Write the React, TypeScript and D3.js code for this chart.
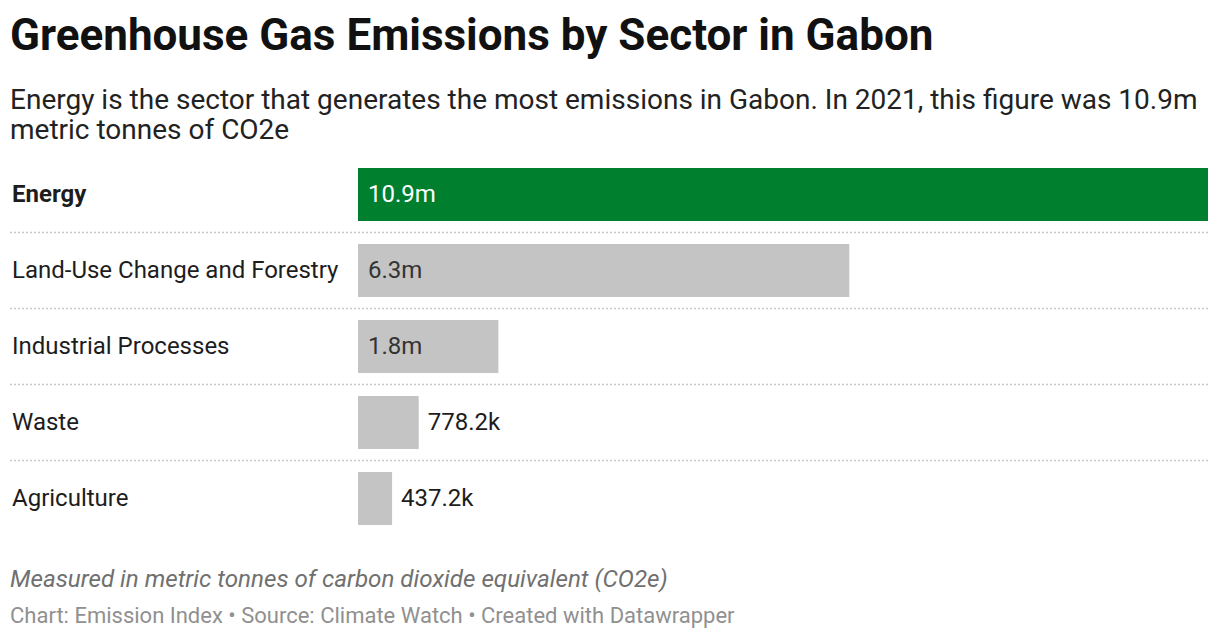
import * as React from "react"
import * as d3 from "d3"

const sectors = [
  "Energy",
  "Land-Use Change and Forestry",
  "Industrial Processes",
  "Waste",
  "Agriculture",
]
const emissions = [10900000, 6300000, 1800000, 778200, 437200]
const highlight = "Energy"

const fmt = (v: number) =>
  v >= 1e6 ? `${(v / 1e6).toFixed(1)}m` : `${(v / 1e3).toFixed(1)}k`

const width = 1220
const height = 640
const FONT = "Roboto, 'Noto Sans', sans-serif"

export default function App(): React.JSX.Element {
  const svgRef = React.useRef<SVGSVGElement>(null)

  React.useEffect(() => {
    document.body.style.margin = "0"
    const svg = d3.select(svgRef.current)
    svg.selectAll("*").remove()

    const plotLeft = 358
    const plotRight = 1208
    const top = 168

    const x = d3
      .scaleLinear()
      .domain([0, d3.max(emissions) as number])
      .range([plotLeft, plotRight])

    const y = d3
      .scaleBand()
      .domain(sectors)
      .range([top - 11.5, top - 11.5 + 76 * sectors.length])
      .paddingInner((11.5 * 2) / 76)
      .paddingOuter(11.5 / 76)

    // title
    svg
      .append("text")
      .attr("x", 10)
      .attr("y", 50)
      .attr("font-family", FONT)
      .attr("font-weight", 700)
      .attr("font-size", 44)
      .attr("fill", "#111")
      .text("Greenhouse Gas Emissions by Sector in Gabon")

    const sub = [
      "Energy is the sector that generates the most emissions in Gabon. In 2021, this figure was 10.9m",
      "metric tonnes of CO2e",
    ]
    svg
      .selectAll(".sub")
      .data(sub)
      .join("text")
      .attr("class", "sub")
      .attr("x", 10)
      .attr("y", (_, i) => 109 + i * 30)
      .attr("font-family", FONT)
      .attr("font-size", 28)
      .attr("fill", "#222")
      .text((d) => d)

    // separators
    svg
      .selectAll(".sep")
      .data(sectors.slice(0, -1))
      .join("line")
      .attr("class", "sep")
      .attr("x1", 10)
      .attr("x2", plotRight)
      .attr("y1", (d) => (y(d) as number) + y.bandwidth() + 11.5)
      .attr("y2", (d) => (y(d) as number) + y.bandwidth() + 11.5)
      .attr("stroke", "#c8c8c8")
      .attr("stroke-width", 1.5)
      .attr("stroke-dasharray", "2,2")

    // bars
    svg
      .selectAll(".bar")
      .data(sectors)
      .join("rect")
      .attr("class", "bar")
      .attr("x", plotLeft)
      .attr("y", (d) => y(d) as number)
      .attr("width", (d, i) => x(emissions[i]) - plotLeft)
      .attr("height", y.bandwidth())
      .attr("fill", (d) => (d === highlight ? "#00802f" : "#c4c4c4"))

    // category labels
    svg
      .selectAll(".label")
      .data(sectors)
      .join("text")
      .attr("class", "label")
      .attr("x", 12)
      .attr("y", (d) => (y(d) as number) + y.bandwidth() / 2 - 1)
      .attr("dy", "0.35em")
      .attr("font-family", FONT)
      .attr("font-size", 24)
      .attr("font-weight", (d) => (d === highlight ? 700 : 400))
      .attr("fill", "#1d1d1d")
      .text((d) => d)

    // value labels
    svg
      .selectAll(".value")
      .data(sectors)
      .join("text")
      .attr("class", "value")
      .attr("font-family", FONT)
      .attr("font-size", 24)
      .attr("y", (d) => (y(d) as number) + y.bandwidth() / 2 - 1)
      .attr("dy", "0.35em")
      .text((d, i) => fmt(emissions[i]))
      .each(function (d, i) {
        const t = d3.select(this)
        const w = (this as SVGTextElement).getComputedTextLength()
        const barW = x(emissions[i]) - plotLeft
        const inside = w + 20 < barW
        t.attr("x", inside ? plotLeft + 10 : plotLeft + barW + 9).attr(
          "fill",
          inside ? (d === highlight ? "#ffffff" : "#333") : "#1d1d1d"
        )
      })

    // notes
    svg
      .append("text")
      .attr("x", 10)
      .attr("y", 587)
      .attr("font-family", FONT)
      .attr("font-size", 24.2)
      .attr("font-style", "italic")
      .attr("fill", "#707070")
      .text("Measured in metric tonnes of carbon dioxide equivalent (CO2e)")

    svg
      .append("text")
      .attr("x", 10)
      .attr("y", 623)
      .attr("font-family", FONT)
      .attr("font-size", 22)
      .attr("fill", "#909090")
      .text("Chart: Emission Index • Source: Climate Watch • Created with Datawrapper")
  }, [])

  return (
    <div style={{ position: "absolute", left: 0, top: 0, background: "#fff" }}>
      <svg ref={svgRef} width={width} height={height}></svg>
    </div>
  )
}
